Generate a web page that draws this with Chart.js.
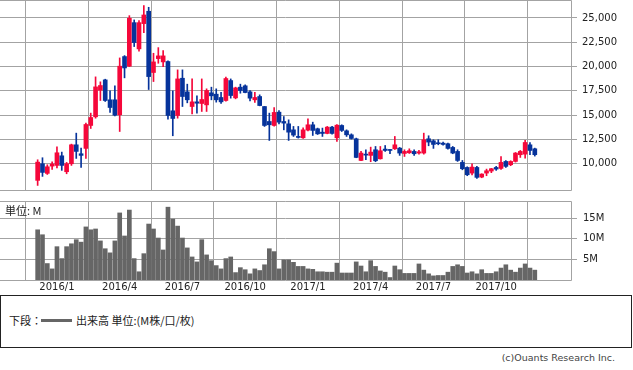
<!DOCTYPE html>
<html><head><meta charset="utf-8">
<script src="https://cdn.jsdelivr.net/npm/chart.js@4/dist/chart.umd.min.js"></script>
<style>
html,body{margin:0;padding:0;background:#fff;width:633px;height:370px;overflow:hidden;position:relative;font-family:"DejaVu Sans",sans-serif}
#pc{position:absolute;left:0;top:-1px}
#vc{position:absolute;left:0;top:200px}
.unit{position:absolute;left:5px;top:205px;font-size:11px;line-height:11px;font-family:"Noto Sans CJK JP","DejaVu Sans";color:#222}
.legend{position:absolute;left:0;top:295px;width:630px;height:51px;border:1px solid #222}
.lg1{position:absolute;left:8px;top:17px;font-size:11px;line-height:14px;font-family:"Noto Sans CJK JP";color:#222}
.lgline{position:absolute;left:40px;top:23px;width:31px;height:3px;background:#666}
.lg2{position:absolute;left:75px;top:17px;font-size:11px;line-height:14px;font-family:"Noto Sans CJK JP";color:#222}
.copy{position:absolute;right:18px;top:352px;font-size:9.5px;line-height:12px;color:#444;font-family:"DejaVu Sans"}
</style></head><body>
<canvas id="pc" width="633" height="192"></canvas>
<canvas id="vc" width="633" height="93"></canvas>
<div class="unit">単位: M</div>
<div class="legend"><span class="lg1">下段：</span><span class="lgline"></span><span class="lg2">出来高 単位:(M株/口/枚)</span></div>
<div class="copy">(c)Ouants Research Inc.</div>
<script>
// weekly candles (Dec 2015 - Nov 2017)
const open  = [8290,10000,9010,9760,9830,10820,9180,10000,11950,11030,11580,13940,14830,17570,18630,16580,16580,15040,21030,20040,24520,21820,24420,25690,19390,20820,20480,20520,15450,14970,18800,17400,15890,16370,16200,16060,17300,17160,16820,16510,18560,16780,17880,18020,17400,16580,16920,15890,14350,13940,15310,14350,14110,13490,12810,12670,13460,14010,13600,13250,13120,13770,12670,13940,13390,12980,12570,10340,10990,10860,11440,10510,11510,11440,11540,11610,11060,11130,11270,11100,11100,12570,12360,12160,12120,12060,11680,11270,10140,9620,9040,9620,8630,9040,9250,9620,9520,10240,9900,10240,10930,10990,11950,11540];
const high  = [10410,10620,9900,10210,11750,11200,10140,12020,13150,11610,14180,15210,18940,18430,18700,17500,18020,20890,21130,25240,24800,24730,26270,26100,21370,21950,21650,20580,17500,19660,19660,18190,18730,16990,18730,17710,17880,17710,17360,18910,18730,17880,18190,18120,17540,17360,17090,15890,15210,15790,15480,14860,14520,13840,13840,13700,14620,14280,13670,13670,13840,13840,14040,14010,13490,13080,12640,11270,11440,11710,11780,11780,11880,11470,12810,11680,11440,11540,11440,11370,13150,12880,12470,12470,12230,12120,11780,11440,10340,9690,10000,9730,8970,9450,9520,9730,10750,10340,10310,11160,11370,12400,12190,11610];
const low   = [7770,8700,8900,9420,9560,9320,8970,9830,10550,9620,10550,13630,14690,16510,16410,15280,14930,13320,18840,20000,22060,21580,23490,17640,18460,20340,20000,14590,12880,14690,15890,16270,15140,15210,15380,15380,16580,16340,16200,16440,16750,16680,17260,17300,16470,16300,15960,13840,12400,13870,14110,13490,12400,12810,12640,12600,13390,12910,13010,12810,13080,13050,12300,13320,12810,12540,10620,10310,10410,10210,10210,10480,11270,11030,11470,10860,10750,11060,10860,10990,10990,11850,11580,11950,11920,11510,11030,10240,9380,8770,8840,8490,8560,8770,9080,9320,9420,9620,9800,10170,10650,10580,10930,10790];
const close = [10170,9110,9690,9970,11130,9830,10000,11950,11270,10860,14040,14760,17910,18050,16510,15790,15000,20040,19860,24970,22470,24520,25310,18970,20480,21100,21100,14970,14660,18730,16920,16580,16370,16230,16610,17540,16990,16580,16370,18770,17020,17810,17540,17330,16750,16820,15990,13940,14010,15280,14280,14180,13250,12950,12710,13490,14010,13430,13080,13120,13770,13120,13970,13430,12980,12600,10650,11100,10890,11200,10310,11340,11370,11370,11950,11100,11270,11340,11030,11230,12470,12230,11990,12060,11990,11580,11100,10340,9490,8870,9660,8600,8940,9280,9490,9450,10140,9730,10240,11100,11270,12190,11370,10930];
// weekly volume, millions
const volume = [12.2,11.0,4.0,2.7,8.1,5.2,8.1,8.8,9.8,9.2,
 12.9,12.2,12.4,9.5,7.6,6.6,9.5,16.3,10.7,17.0,
 5.2,2.0,6.4,13.6,12.4,10.2,7.3,17.7,14.8,13.1,
 10.2,7.8,5.6,4.4,9.8,6.1,4.7,3.5,2.7,5.2,
 5.6,1.8,3.0,2.5,1.5,2.7,2.3,3.7,7.6,6.9,
 2.7,4.9,4.9,4.3,3.3,3.3,2.7,2.6,2.0,2.0,
 1.9,1.9,4.1,1.7,1.7,1.7,4.4,3.4,2.0,4.7,
 3.3,2.2,1.9,0.6,3.4,2.5,1.6,1.6,1.6,3.9,
 2.4,1.5,1.0,1.1,1.1,1.9,3.3,3.7,3.3,1.7,
 2.0,1.5,2.5,1.6,1.6,2.0,2.9,3.7,2.4,1.9,
 2.9,3.9,2.9,2.4];
// quarter tick labels and the week they fall on
const tickLabels = ['2016/1','2016/4','2016/7','2016/10','2017/1','2017/4','2017/7','2017/10'];
const tickWeeks  = [4,17,30,43,56,69,82,95];
const priceTicks = [10000,12500,15000,17500,20000,22500,25000];
const volTicks   = [5,10,15];

const GRID = '#a3a3a3', UP = '#f5073a', DOWN = '#06339b', VOLC = '#666666';
const XMIN = -7.8, XMAX = 110.5;
const idx = open.map((_, i) => i);
const cols = idx.map(i => close[i] >= open[i] ? UP : DOWN);

const frame = {
  id: 'frame',
  beforeDatasetsDraw(c) {
    const { ctx, chartArea: a } = c;
    ctx.save();
    ctx.strokeStyle = GRID; ctx.lineWidth = 1;
    const t = Math.floor(a.top) + 0.5, b = Math.floor(a.bottom) + 0.5, r = Math.floor(a.right) + 0.5;
    ctx.beginPath();
    ctx.moveTo(a.left, t); ctx.lineTo(r, t); ctx.lineTo(r, b); ctx.lineTo(a.left, b);
    ctx.stroke();
    ctx.restore();
  }
};
const noPad = s => { s.paddingTop = 0; s.paddingBottom = 0; s.paddingLeft = 0; s.paddingRight = 0; };

const xCommon = (showLabels) => ({
  type: 'linear', min: XMIN, max: XMAX, offset: false,
  grid: { color: GRID, drawTicks: false },
  border: { display: false },
  ticks: {
    display: showLabels, padding: 1, color: '#222', maxRotation: 0, autoSkip: false,
    font: { family: 'DejaVu Sans', size: 10 },
    callback: (v) => { const k = tickWeeks.indexOf(v); return k >= 0 ? tickLabels[k] : ''; }
  },
  afterBuildTicks: s => { s.ticks = tickWeeks.map(v => ({ value: v })); },
  afterFit: s => { s.height = showLabels ? 13 : 0; noPad(s); }
});

new Chart(document.getElementById('pc'), {
  type: 'bar',
  data: {
    datasets: [
      { data: idx.map(i => ({ x: i, y: [low[i], high[i]] })), backgroundColor: cols, barThickness: 1, grouped: false, order: 2 },
      { data: idx.map(i => ({ x: i, y: [open[i], close[i]] })), backgroundColor: cols, barThickness: 4, grouped: false, minBarLength: 1, order: 1 }
    ]
  },
  options: {
    responsive: false, animation: false, devicePixelRatio: 1,
    plugins: { legend: { display: false }, tooltip: { enabled: false } },
    layout: { padding: { top: 1, bottom: 1, left: 0, right: 0 } },
    scales: {
      x: xCommon(false),
      y: {
        position: 'right', min: 7300, max: 26850,
        grid: { color: GRID, tickLength: 6, tickColor: GRID },
        border: { display: false },
        ticks: { padding: 5, color: '#222', font: { family: 'DejaVu Sans', size: 10 },
          callback: v => v.toLocaleString('en-US') },
        afterBuildTicks: s => { s.ticks = priceTicks.map(v => ({ value: v })); },
        afterFit: s => { s.width = 62; noPad(s); }
      }
    }
  },
  plugins: [frame]
});

new Chart(document.getElementById('vc'), {
  type: 'bar',
  data: {
    datasets: [
      { data: idx.map(i => ({ x: i, y: volume[i] })), backgroundColor: VOLC, barThickness: 4 }
    ]
  },
  options: {
    responsive: false, animation: false, devicePixelRatio: 1,
    plugins: { legend: { display: false }, tooltip: { enabled: false } },
    layout: { padding: { top: 1, bottom: 0, left: 0, right: 0 } },
    scales: {
      x: xCommon(true),
      y: {
        position: 'right', min: 0, max: 19.2,
        grid: { color: GRID, tickLength: 6, tickColor: GRID },
        border: { display: false },
        ticks: { padding: 6, color: '#222', font: { family: 'DejaVu Sans', size: 10 },
          callback: v => v + 'M' },
        afterBuildTicks: s => { s.ticks = volTicks.map(v => ({ value: v })); },
        afterFit: s => { s.width = 62; noPad(s); }
      }
    }
  },
  plugins: [frame]
});
</script>
</body></html>
